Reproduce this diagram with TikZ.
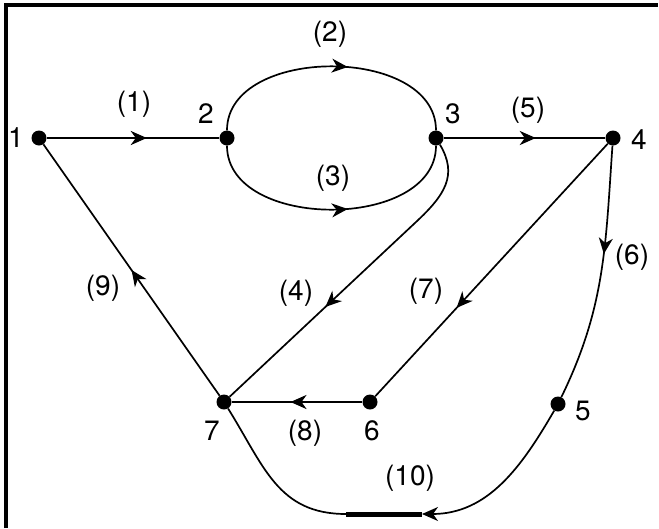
\documentclass[tikz,border=0pt]{standalone}
\usepackage{fontspec}
\setmainfont{TeX Gyre Heros}
\usetikzlibrary{arrows.meta,decorations.markings}

\begin{document}
\begin{tikzpicture}[
  x=1pt, y=-1pt,
  font=\fontsize{28}{32}\selectfont,
  vertex/.style={circle, fill=black, inner sep=0pt, minimum size=15pt},
  edge/.style={line width=1.7pt},
  heavy/.style={line width=2.6pt},
  midarrow/.style={postaction={decorate}, decoration={markings,
      mark=at position #1 with {\arrow{Stealth[length=16pt,width=14pt,inset=5pt]}}}},
  endarrow/.style={-{Stealth[length=16pt,width=14pt,inset=5pt]}},
  bar/.style={line width=5pt},
  frame/.style={line width=4pt}
]
  \useasboundingbox (0,0) rectangle (659,528);
  \draw[frame] (6,528) -- (6,5) -- (658,5);

  \node[vertex] (n1) at (39,138) {};
  \node[vertex] (n2) at (227,138) {};
  \node[vertex] (n3) at (436,138) {};
  \node[vertex] (n4) at (613,138) {};
  \node[vertex] (n5) at (558,404) {};
  \node[vertex] (n6) at (370,402) {};
  \node[vertex] (n7) at (224,402) {};
  \coordinate (c4) at (416,222);
  \coordinate (c10a) at (422,514);
  \coordinate (c10b) at (346,514);

  \node (t1) at (16,138) {1};
  \node (t2) at (206,114) {2};
  \node (t3) at (453,114) {3};
  \node (t4) at (639,140) {4};
  \node (t5) at (583,411) {5};
  \node (t6) at (372,431) {6};
  \node (t7) at (212,431) {7};

  \node (e1) at (134,104) {(1)};
  \node (e2) at (330,34) {(2)};
  \node (e3) at (333,178) {(3)};
  \node (e4) at (296,293) {(4)};
  \node (e5) at (528,110) {(5)};
  \node (e6) at (632,257) {(6)};
  \node (e7) at (426,291) {(7)};
  \node (e8) at (305,433) {(8)};
  \node (e9) at (103,288) {(9)};
  \node (e10) at (410,478) {(10)};

  \draw[heavy, midarrow=0.58] (n1) -- (n2);
  \draw[edge, midarrow=0.56] (n2) .. controls +(0,-93) and +(0,-93) .. (n3);
  \draw[edge, midarrow=0.56] (n2) .. controls +(0,93) and +(0,93) .. (n3);
  \draw[edge, midarrow=0.62] (n3) .. controls (458,175) and (445,195) .. (c4) -- (n7);
  \draw[heavy, midarrow=0.57] (n3) -- (n4);
  \draw[edge, midarrow=0.42] (n4) to[out=-94, in=64] (n5);
  \draw[edge, midarrow=0.65] (n4) -- (n6);
  \draw[heavy, midarrow=0.55] (n6) -- (n7);
  \draw[edge, midarrow=0.5] (n7) -- (n1);
  \draw[edge, endarrow] (n5) to[out=-120, in=0] (c10a);
  \draw[bar] (c10a) -- (c10b);
  \draw[edge] (c10b) to[out=180, in=-58, looseness=1.1] (n7);
\end{tikzpicture}
\end{document}
